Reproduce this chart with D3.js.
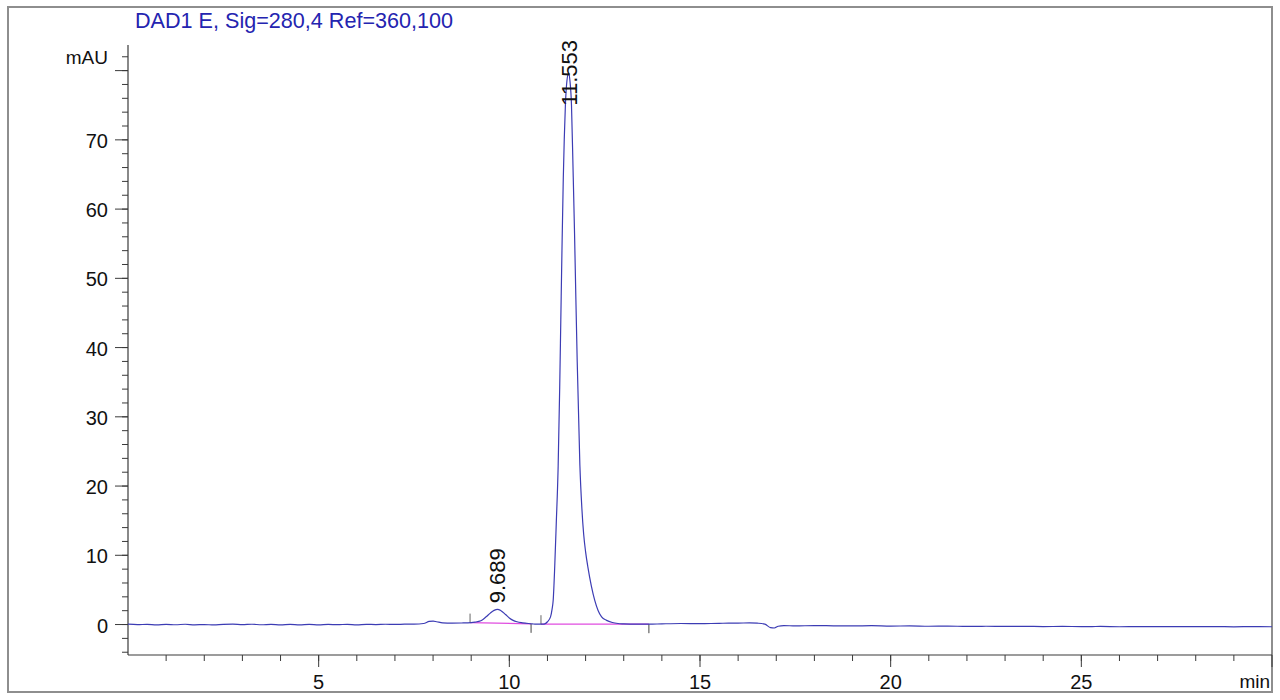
<!DOCTYPE html>
<html>
<head>
<meta charset="utf-8">
<script src="https://cdn.jsdelivr.net/npm/d3@7/dist/d3.min.js"></script>
<style>
  html, body { margin: 0; padding: 0; background: #fff; }
  svg { display: block; font-family: "Liberation Sans", Arial, sans-serif; }
</style>
</head>
<body>
<svg id="chart" width="1280" height="700"></svg>
<script>
// ---------- data ----------
const titleText = "DAD1 E, Sig=280,4 Ref=360,100";
const yUnit = "mAU";
const xUnit = "min";

const timeMin = [
  0.00, 0.25, 0.50, 0.75, 1.00, 1.25, 1.50, 1.75, 2.00, 2.25, 2.50, 2.75, 3.00, 3.25, 3.50, 3.75,
  4.00, 4.25, 4.50, 4.75, 5.00, 5.25, 5.50, 5.75, 6.00, 6.25, 6.50, 6.75, 7.00, 7.25, 7.50, 7.75,
  7.90, 8.00, 8.10, 8.25, 8.50, 8.75, 9.00, 9.10, 9.20, 9.30, 9.40, 9.50, 9.60, 9.689, 9.78, 9.90,
  10.00, 10.10, 10.20, 10.35, 10.50, 10.60, 10.70, 10.80, 10.88, 10.93, 11.00, 11.08, 11.12, 11.15,
  11.19, 11.23, 11.28, 11.32, 11.35, 11.38, 11.415, 11.44, 11.47, 11.51, 11.553, 11.59, 11.63, 11.67,
  11.71, 11.745, 11.78, 11.85, 11.90, 11.95, 12.00, 12.06, 12.15, 12.24, 12.33, 12.42, 12.55, 12.70,
  12.85, 13.00, 13.30, 13.66, 14.00, 14.50, 15.00, 15.50, 16.00, 16.30, 16.50, 16.70, 16.85, 16.95,
  17.05, 17.20, 17.50, 18.00, 18.50, 19.00, 19.50, 20.00, 20.50, 21.00, 21.50, 22.00, 22.50, 23.00,
  23.50, 24.00, 24.50, 25.00, 25.50, 26.00, 26.50, 27.00, 27.50, 28.00, 28.50, 29.00, 29.50, 30.00
];
const signalMAU = [
  0.05, -0.02, 0.03, -0.05, 0.02, -0.03, 0.04, -0.04, 0.00, -0.06, 0.03, 0.05, -0.02, 0.04, -0.03, 0.02,
  -0.05, 0.03, -0.04, 0.01, -0.06, 0.02, -0.02, 0.03, -0.04, 0.02, 0.00, 0.04, 0.02, 0.05, 0.06, 0.15,
  0.45, 0.50, 0.40, 0.25, 0.20, 0.22, 0.28, 0.35, 0.45, 0.70, 1.15, 1.65, 2.05, 2.20, 2.00, 1.45,
  0.95, 0.60, 0.40, 0.25, 0.15, 0.10, 0.05, 0.05, 0.05, 0.10, 0.40, 1.10, 2.20, 3.50,
  8.30, 14.5, 22.8, 34.0, 44.0, 54.0, 64.5, 70.0, 75.0, 78.5, 79.6, 78.5, 75.0, 66.0,
  56.5, 47.0, 38.0, 23.0, 17.0, 13.0, 10.5, 8.30, 5.60, 3.50, 2.00, 1.10, 0.60, 0.30,
  0.15, 0.10, 0.05, 0.05, 0.10, 0.15, 0.12, 0.18, 0.20, 0.25, 0.20, 0.05, -0.45, -0.50,
  -0.25, -0.15, -0.20, -0.15, -0.18, -0.20, -0.17, -0.22, -0.20, -0.25, -0.22, -0.27, -0.25, -0.28,
  -0.26, -0.30, -0.27, -0.30, -0.28, -0.32, -0.29, -0.30, -0.30, -0.31, -0.30, -0.33, -0.30, -0.32
];

// integration baselines: start time/value, end time/value
const baseStartT = [8.97, 10.83];
const baseStartV = [0.28, 0.05];
const baseEndT   = [10.57, 13.66];
const baseEndV   = [0.10, 0.05];

const peakRT     = [9.689, 11.553];
const peakApex   = [2.20, 79.6];
const peakLabels = ["9.689", "11.553"];

const yMajorTicks = [0, 10, 20, 30, 40, 50, 60, 70, 80];
const yLabelTicks = [0, 10, 20, 30, 40, 50, 60, 70];
const yMinorTicks = d3.range(-4, 83, 2);
const xMajorTicks = [5, 10, 15, 20, 25, 30];
const xLabelTicks = [5, 10, 15, 20, 25];
const xMinorTicks = d3.range(1, 30, 1);

// ---------- layout ----------
const svg = d3.select("#chart");
const plotL = 128, plotR = 1272, plotT = 45, plotB = 655;

const x = d3.scaleLinear().domain([0, 30]).range([plotL, plotR]);
const y = d3.scaleLinear().domain([-4.4, 83.7]).range([plotB, plotT]);

const axisColor = "#3a3a3a";

// outer frame
svg.append("rect")
  .attr("x", 8).attr("y", 7).attr("width", 1264).attr("height", 685)
  .attr("fill", "none").attr("stroke", "#8e8e8e").attr("stroke-width", 2);

// title
svg.append("text")
  .attr("x", 135).attr("y", 28)
  .attr("font-size", 21.6).attr("fill", "#2424b0")
  .text(titleText);

// Y axis
const gy = svg.append("g");
gy.append("line").attr("x1", plotL).attr("x2", plotL).attr("y1", plotT).attr("y2", plotB)
  .attr("stroke", axisColor).attr("stroke-width", 1.2);
gy.selectAll("line.minor").data(yMinorTicks).enter().append("line")
  .attr("x1", plotL - 6).attr("x2", plotL)
  .attr("y1", d => y(d)).attr("y2", d => y(d))
  .attr("stroke", axisColor).attr("stroke-width", 1);
gy.selectAll("line.major").data(yMajorTicks).enter().append("line")
  .attr("x1", plotL - 13).attr("x2", plotL)
  .attr("y1", d => y(d)).attr("y2", d => y(d))
  .attr("stroke", axisColor).attr("stroke-width", 1);
gy.selectAll("text.lab").data(yLabelTicks).enter().append("text")
  .attr("x", 108).attr("y", d => y(d) + 8)
  .attr("text-anchor", "end").attr("font-size", 20).attr("fill", "#111")
  .text(d => d);
gy.append("text").attr("x", 108).attr("y", y(82) + 7)
  .attr("text-anchor", "end").attr("font-size", 19).attr("fill", "#111")
  .text(yUnit);

// X axis
const gx = svg.append("g");
gx.append("line").attr("x1", plotL).attr("x2", plotR).attr("y1", plotB).attr("y2", plotB)
  .attr("stroke", axisColor).attr("stroke-width", 1.2);
gx.selectAll("line.minor").data(xMinorTicks).enter().append("line")
  .attr("x1", d => x(d)).attr("x2", d => x(d))
  .attr("y1", plotB).attr("y2", plotB + 6)
  .attr("stroke", axisColor).attr("stroke-width", 1);
gx.selectAll("line.major").data(xMajorTicks).enter().append("line")
  .attr("x1", d => x(d)).attr("x2", d => x(d))
  .attr("y1", plotB).attr("y2", plotB + 12)
  .attr("stroke", axisColor).attr("stroke-width", 1);
gx.selectAll("text.lab").data(xLabelTicks).enter().append("text")
  .attr("x", d => x(d)).attr("y", 689)
  .attr("text-anchor", "middle").attr("font-size", 20).attr("fill", "#111")
  .text(d => d);
gx.append("text").attr("x", 1270).attr("y", 688)
  .attr("text-anchor", "end").attr("font-size", 19).attr("fill", "#111")
  .text(xUnit);

// integration baselines (magenta)
const baseIdx = d3.range(baseStartT.length);
svg.selectAll("line.base").data(baseIdx).enter().append("line")
  .attr("x1", i => x(baseStartT[i])).attr("y1", i => y(baseStartV[i]))
  .attr("x2", i => x(baseEndT[i])).attr("y2", i => y(baseEndV[i]))
  .attr("stroke", "#e04ce0").attr("stroke-width", 1.2);
svg.selectAll("line.bs").data(baseIdx).enter().append("line")
  .attr("x1", i => x(baseStartT[i])).attr("x2", i => x(baseStartT[i]))
  .attr("y1", i => y(baseStartV[i]) - 9).attr("y2", i => y(baseStartV[i]))
  .attr("stroke", "#666").attr("stroke-width", 1);
svg.selectAll("line.be").data(baseIdx).enter().append("line")
  .attr("x1", i => x(baseEndT[i])).attr("x2", i => x(baseEndT[i]))
  .attr("y1", i => y(baseEndV[i])).attr("y2", i => y(baseEndV[i]) + 9)
  .attr("stroke", "#444").attr("stroke-width", 1);

// signal
const pts = timeMin.map((t, i) => [t, signalMAU[i]]);
svg.append("path")
  .datum(pts)
  .attr("fill", "none")
  .attr("stroke", "#3c3cb4")
  .attr("stroke-width", 1.2)
  .attr("d", d3.line().x(d => x(d[0])).y(d => y(d[1])).curve(d3.curveMonotoneX));

// peak labels (rotated)
peakRT.forEach((rt, i) => {
  const t = svg.append("text")
    .attr("font-size", 22).attr("fill", "#111")
    .text(peakLabels[i]);
  const len = t.node().getComputedTextLength();
  const yb = Math.max(y(peakApex[i]) - 6, 40 + len);
  t.attr("transform", `translate(${x(rt) + 8},${yb}) rotate(-90)`);
});
</script>
</body>
</html>
